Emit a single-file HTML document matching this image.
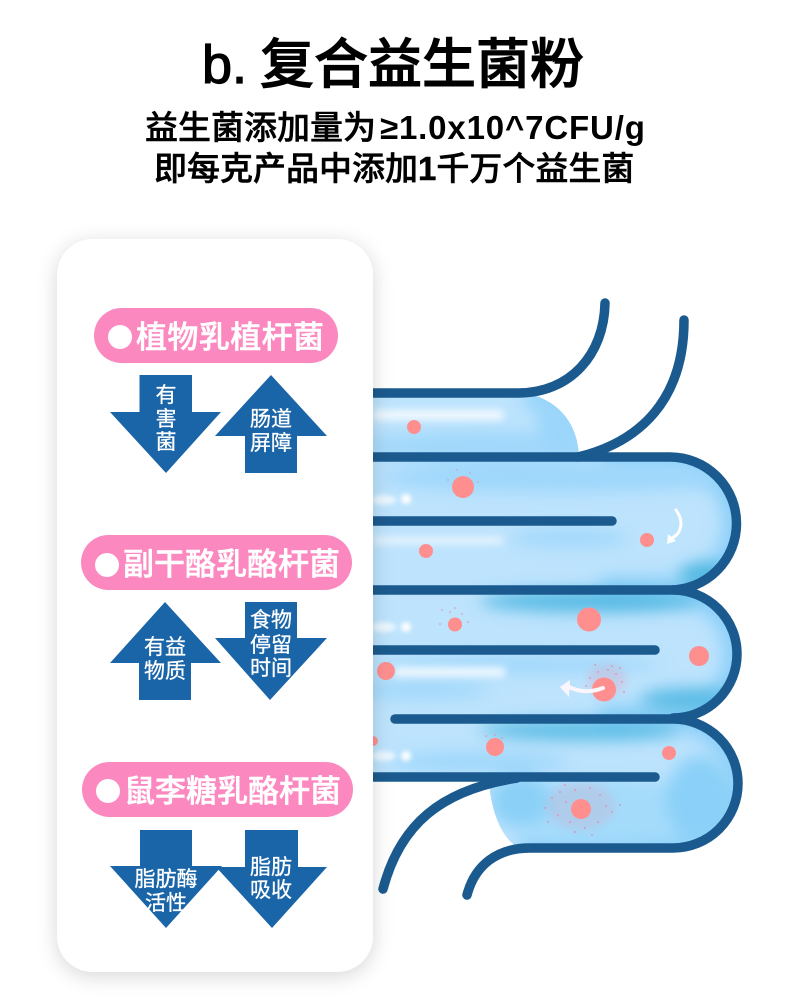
<!DOCTYPE html>
<html><head><meta charset="utf-8"><style>
html,body{margin:0;padding:0;background:#fff}
svg{display:block}
text{font-family:"Liberation Sans","Noto Sans CJK SC",sans-serif}
.a{fill:#1a64a8}
.t{fill:#fff;font-size:21px;text-anchor:middle;stroke:#fff;stroke-width:.3}
.p{fill:#fc88c0}
.pt{fill:#fff;font-size:31px;font-weight:500;stroke:#fff;stroke-width:.5}
.d{fill:#ff8f8f}
.s{fill:#e58aa8}
.h{fill:#000;stroke:#000}
</style></head><body>
<svg width="790" height="1005" viewBox="0 0 790 1005" xmlns="http://www.w3.org/2000/svg">
<defs>
<filter id="b12" x="-30%" y="-30%" width="160%" height="160%"><feGaussianBlur stdDeviation="9"/></filter>
<filter id="b8" x="-50%" y="-100%" width="200%" height="300%"><feGaussianBlur stdDeviation="8"/></filter>
<filter id="b4" x="-30%" y="-100%" width="160%" height="300%"><feGaussianBlur stdDeviation="4"/></filter>
<filter id="b2" x="-30%" y="-100%" width="160%" height="300%"><feGaussianBlur stdDeviation="2.5"/></filter>
<filter id="sh" x="-20%" y="-20%" width="140%" height="140%"><feDropShadow dx="0" dy="4" stdDeviation="10" flood-color="#000" flood-opacity=".16"/></filter>
<clipPath id="tube"><path d="M340,393H525C560,400 578,425 579,457H670A66.5,66.5 0 0 1 670,590H673A64,64 0 0 1 673,718A65,65 0 0 1 673,848H520C500,840 490,805 489,780H340Z"/></clipPath>
</defs>

<!-- Intestine fill -->
<g clip-path="url(#tube)">
<rect x="340" y="385" width="420" height="470" fill="#bde3fd"/>
<path d="M525,393C560,400 578,425 579,457" fill="none" stroke="#93d3f9" stroke-width="26" filter="url(#b12)"/>
<path d="M600,457H670A66.5,66.5 0 0 1 670,590H600M673,590A64,64 0 0 1 673,718H600M673,718A65,65 0 0 1 673,848H520" fill="none" stroke="#86cdf8" stroke-width="24" filter="url(#b12)"/>
<g filter="url(#b8)">
<ellipse cx="480" cy="447" rx="120" ry="16" fill="#a0d8fb"/>
<ellipse cx="560" cy="425" rx="22" ry="35" fill="#9bd6fa"/>
<ellipse cx="560" cy="478" rx="180" ry="14" fill="#9dd7fb"/>
<ellipse cx="570" cy="538" rx="60" ry="9" fill="#a0d8fb"/>
<ellipse cx="705" cy="575" rx="26" ry="12" fill="#4fb7e0"/>
<ellipse cx="590" cy="601" rx="110" ry="11" fill="#55b9e3"/>
<ellipse cx="690" cy="700" rx="50" ry="12" fill="#5abce5"/>
<ellipse cx="420" cy="690" rx="70" ry="8" fill="#9dd7fb"/>
<ellipse cx="520" cy="665" rx="140" ry="8" fill="#9dd7fb"/>
<ellipse cx="580" cy="730" rx="100" ry="10" fill="#5abce5"/>
<ellipse cx="480" cy="762" rx="90" ry="10" fill="#9dd7fb"/>
<ellipse cx="600" cy="810" rx="110" ry="32" fill="#a4dbfb"/>
<ellipse cx="520" cy="800" rx="30" ry="26" fill="#8ad0f7"/>
<ellipse cx="700" cy="800" rx="34" ry="44" fill="#8ad0f8"/>
<ellipse cx="640" cy="845" rx="90" ry="6" fill="#95d4fa"/>
</g>
<g filter="url(#b4)" fill="#fff">
<rect x="373" y="410" width="130" height="10" opacity=".8"/>
<rect x="373" y="537" width="130" height="7" opacity=".65"/>
<rect x="395" y="667" width="110" height="10" opacity=".8"/>
</g>
<g filter="url(#b2)" fill="#fff">
<ellipse cx="384" cy="500" rx="12" ry="5" opacity=".7"/>
<circle cx="406" cy="499" r="5"/>
<ellipse cx="384" cy="627" rx="12" ry="5" opacity=".7"/>
<circle cx="406" cy="627" r="5"/>
<ellipse cx="384" cy="756" rx="12" ry="5" opacity=".7"/>
<circle cx="406" cy="756" r="5"/>
</g>
</g>

<!-- Pathogen specks -->
<ellipse cx="581" cy="806" rx="34" ry="24" fill="#e58aa8" opacity=".18" filter="url(#b4)"/>
<ellipse cx="607" cy="680" rx="20" ry="16" fill="#e58aa8" opacity=".22" filter="url(#b4)"/>
<g class="s">
<circle cx="457" cy="470" r=".7"/><circle cx="470" cy="473" r=".7"/><circle cx="448" cy="480" r=".7"/><circle cx="478" cy="482" r=".7"/>
<circle cx="442" cy="610" r=".8"/><circle cx="450" cy="612" r=".8"/><circle cx="462" cy="614" r=".8"/><circle cx="440" cy="624" r=".8"/><circle cx="468" cy="622" r=".8"/><circle cx="455" cy="608" r=".8"/>
<circle cx="590" cy="678" r=".9"/><circle cx="598" cy="672" r=".9"/><circle cx="608" cy="670" r=".9"/><circle cx="616" cy="674" r=".9"/><circle cx="622" cy="682" r=".9"/><circle cx="624" cy="692" r=".9"/><circle cx="586" cy="686" r=".9"/><circle cx="612" cy="666" r=".9"/><circle cx="620" cy="668" r=".9"/><circle cx="595" cy="665" r=".9"/>
<circle cx="486" cy="736" r=".8"/><circle cx="495" cy="735" r=".8"/><circle cx="502" cy="738" r=".8"/>
<circle cx="545" cy="808" r=".9"/><circle cx="552" cy="798" r=".9"/><circle cx="560" cy="792" r=".9"/><circle cx="566" cy="802" r=".9"/><circle cx="558" cy="815" r=".9"/><circle cx="570" cy="822" r=".9"/><circle cx="575" cy="790" r=".9"/><circle cx="590" cy="788" r=".9"/><circle cx="600" cy="795" r=".9"/><circle cx="606" cy="806" r=".9"/><circle cx="612" cy="812" r=".9"/><circle cx="598" cy="822" r=".9"/><circle cx="585" cy="828" r=".9"/><circle cx="575" cy="832" r=".9"/><circle cx="548" cy="822" r=".9"/><circle cx="620" cy="805" r=".9"/><circle cx="565" cy="785" r=".9"/><circle cx="592" cy="835" r=".9"/>
</g>

<!-- Outline -->
<g fill="none" stroke="#1b5a8e" stroke-width="9.5" stroke-linecap="round">
<path d="M340,393H518C570,393 604,355 605,303"/>
<path d="M340,457H670A66.5,66.5 0 0 1 670,590H340"/>
<path d="M578,457C640,442 684,400 684,320"/>
<path d="M673,590A64,64 0 0 1 673,718"/>
<path d="M395,719H673A65,64.5 0 0 1 673,848H530C497,848 475,865 467,895"/>
<path d="M340,521H612"/>
<path d="M340,650H655"/>
<path d="M340,777H655"/>
<path d="M383,889C400,825 440,790 517,778"/>
</g>

<!-- Dots -->
<g class="d">
<circle cx="414" cy="427" r="7"/><circle cx="463" cy="487" r="11"/><circle cx="426" cy="551" r="7"/><circle cx="647" cy="540" r="7"/>
<circle cx="455" cy="624.500" r="7"/><circle cx="589" cy="619.500" r="12"/><circle cx="699" cy="656" r="10"/><circle cx="386" cy="671" r="9"/><circle cx="604" cy="689.500" r="12"/>
<circle cx="373" cy="741" r="5"/><circle cx="495" cy="747" r="9"/><circle cx="669" cy="753" r="7"/><circle cx="581" cy="809" r="10"/>
</g>

<!-- White movement arrows -->
<path d="M676,510C684,521 682,533 672,538" fill="none" stroke="#fff" stroke-width="3" stroke-linecap="round"/>
<path d="M667,544L668,534L676,541Z" fill="#fff"/>
<path d="M603,688C590,693 578,692 567,686" fill="none" stroke="#fbf6fb" stroke-width="4" stroke-linecap="round"/>
<path d="M560,687L570,680L569,697Z" fill="#fbf6fb"/>

<!-- Panel -->
<rect x="57" y="239" width="316" height="733" rx="36" ry="36" fill="#fff" filter="url(#sh)"/>

<!-- Heading -->
<text class="h" x="202" y="83" font-size="54" stroke-width="1.3">b.</text>
<text class="h" x="260" y="83" font-size="54" font-weight="500" stroke-width="1">复合益生菌粉</text>
<text class="h" x="145" y="139" font-size="33" font-weight="500" stroke-width=".5">益生菌添加量为</text>
<text x="380" y="139" font-size="33" font-weight="700" fill="#000" letter-spacing=".85">≥1.0x10^7CFU/g</text>
<text class="h" x="154" y="180" font-size="33" font-weight="500" stroke-width=".5">即每克产品中添加<tspan font-weight="700">1</tspan>千万个益生菌</text>

<!-- Pills -->
<rect class="p" x="94" y="308" width="244" height="55" rx="27.5"/>
<circle cx="120" cy="337" r="12" fill="#fff"/>
<text class="pt" x="136" y="348" letter-spacing=".4">植物乳植杆菌</text>
<rect class="p" x="81" y="535" width="271" height="55" rx="27.5"/>
<circle cx="107" cy="565" r="12" fill="#fff"/>
<text class="pt" x="123" y="575">副干酪乳酪杆菌</text>
<rect class="p" x="82" y="762" width="271" height="55" rx="27.5"/>
<circle cx="108" cy="791" r="12" fill="#fff"/>
<text class="pt" x="124" y="802">鼠李糖乳酪杆菌</text>

<!-- Arrows row 1 -->
<polygon class="a" points="139.500,375 192,375 192,412 221,412 166,473 110,412 139.500,412"/>
<polygon class="a" points="271,375 327,436 297,436 297,473 245,473 245,436 215,436"/>
<text class="t" x="166" y="402">有</text>
<text class="t" x="166" y="426">害</text>
<text class="t" x="166" y="449">菌</text>
<text class="t" x="271" y="426">肠道</text>
<text class="t" x="271" y="450">屏障</text>

<!-- Arrows row 2 -->
<polygon class="a" points="165,602 221,663 191,663 191,700 139,700 139,663 110,663"/>
<polygon class="a" points="245,602 297,602 297,638 327,638 270,700 215,638 245,638"/>
<text class="t" x="165" y="654">有益</text>
<text class="t" x="165" y="678">物质</text>
<text class="t" x="271" y="627">食物</text>
<text class="t" x="271" y="652">停留</text>
<text class="t" x="271" y="675">时间</text>

<!-- Arrows row 3 -->
<polygon class="a" points="140,830 192,830 192,866 222,866 166,928 110,866 140,866"/>
<polygon class="a" points="245,830 298,830 298,867 327,867 272,928 216,867 245,867"/>
<text class="t" x="166" y="886">脂肪酶</text>
<text class="t" x="166" y="910">活性</text>
<text class="t" x="271" y="874">脂肪</text>
<text class="t" x="271" y="897">吸收</text>
</svg>
</body></html>
